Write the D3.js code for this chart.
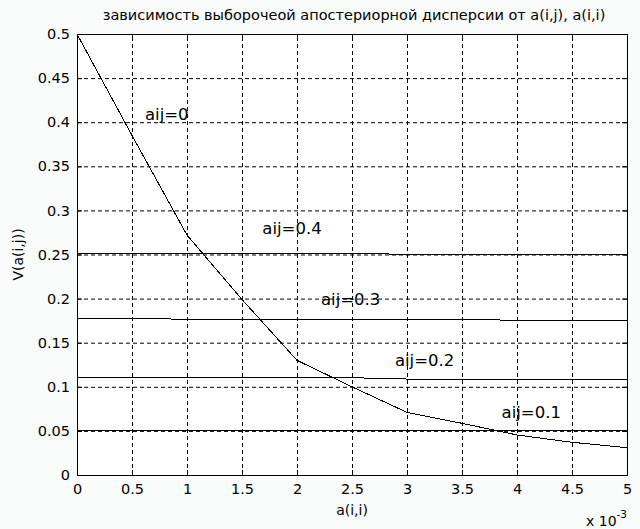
<!DOCTYPE html>
<html>
<head>
<meta charset="utf-8">
<script src="https://cdn.jsdelivr.net/npm/d3@7/dist/d3.min.js"></script>
<style>
  body { margin: 0; background: #fafbfb; }
  svg { display: block; font-family: "DejaVu Sans", sans-serif; }
</style>
</head>
<body>
<svg id="chart" width="640" height="529"></svg>
<script>
// x values are in units of 1e-3
var xValues = [0, 0.5, 1, 1.5, 2, 2.5, 3, 3.5, 4, 4.5, 5];
var curveAij0 = [0.5, 0.385, 0.272, 0.199, 0.13, 0.1, 0.071, 0.0586, 0.0454, 0.0371, 0.031];
var lineAij04 = [0.2513, 0.2513, 0.2513, 0.2513, 0.2513, 0.2513, 0.2502, 0.2502, 0.2502, 0.2502, 0.2502];
var lineAij03 = [0.1777, 0.1777, 0.1765, 0.1765, 0.1765, 0.1765, 0.1765, 0.1765, 0.1754, 0.1754, 0.1754];
var lineAij02 = [0.1103, 0.1103, 0.1103, 0.1103, 0.1103, 0.1103, 0.1088, 0.1088, 0.1088, 0.1088, 0.1088];
var lineAij01 = [0.0508, 0.0508, 0.0508, 0.0508, 0.0502, 0.0502, 0.0502, 0.0502, 0.0502, 0.0502, 0.0502];
var seriesList = [curveAij0, lineAij04, lineAij03, lineAij02, lineAij01];

var labelText = ["aij=0", "aij=0.4", "aij=0.3", "aij=0.2", "aij=0.1"];
var labelX = [0.618, 1.685, 2.218, 2.89, 3.86];
var labelY = [0.4096, 0.2797, 0.2, 0.13, 0.0718];

var xTicks = [0, 0.5, 1, 1.5, 2, 2.5, 3, 3.5, 4, 4.5, 5];
var yTicks = [0, 0.05, 0.1, 0.15, 0.2, 0.25, 0.3, 0.35, 0.4, 0.45, 0.5];

var MARGIN = {top: 34, right: 13, bottom: 54, left: 77};
var width = 640 - MARGIN.left - MARGIN.right;
var height = 529 - MARGIN.top - MARGIN.bottom;

var svg = d3.select("#chart");
var g = svg.append("g")
    .attr("transform", "translate(" + MARGIN.left + "," + MARGIN.top + ")");

var x = d3.scaleLinear().domain([0, 5]).range([0, width]);
var y = d3.scaleLinear().domain([0, 0.5]).range([height, 0]);

g.append("rect")
    .attr("width", width)
    .attr("height", height)
    .attr("fill", "#fff");

// dotted grid
g.append("g")
    .attr("class", "x-grid")
    .attr("transform", "translate(0," + height + ")")
    .call(d3.axisBottom(x).tickValues(xTicks).tickSize(-height).tickFormat(""))
    .call(function(s) { s.select(".domain").remove(); })
    .selectAll("line")
    .attr("stroke", "#000")
    .attr("stroke-dasharray", "4,3");

g.append("g")
    .attr("class", "y-grid")
    .call(d3.axisLeft(y).tickValues(yTicks).tickSize(-width).tickFormat(""))
    .call(function(s) { s.select(".domain").remove(); })
    .selectAll("line")
    .attr("stroke", "#000")
    .attr("stroke-dasharray", "4,3");

// data lines
var line = d3.line()
    .x(function(d, i) { return x(xValues[i]); })
    .y(function(d) { return y(d); });

g.selectAll("path.series")
    .data(seriesList)
    .enter()
    .append("path")
    .attr("class", "series")
    .attr("d", line)
    .attr("fill", "none")
    .attr("stroke", "#000")
    .attr("stroke-width", 1)
    .attr("shape-rendering", "crispEdges");

// axes with inward ticks, box on all sides
g.append("g")
    .attr("class", "x-axis")
    .attr("transform", "translate(0," + height + ")")
    .call(d3.axisBottom(x).tickValues(xTicks).tickSize(-5).tickPadding(9)
        .tickFormat(d3.format("")));

g.append("g")
    .attr("class", "y-axis")
    .call(d3.axisLeft(y).tickValues(yTicks).tickSize(-5).tickPadding(7)
        .tickFormat(d3.format("")));

g.append("g")
    .call(d3.axisTop(x).tickValues(xTicks).tickSize(-5).tickFormat(""));

g.append("g")
    .attr("transform", "translate(" + width + ",0)")
    .call(d3.axisRight(y).tickValues(yTicks).tickSize(-5).tickFormat(""));

g.selectAll(".domain, .tick line")
    .attr("stroke", "#000");
g.selectAll(".x-axis text, .y-axis text")
    .attr("fill", "#000")
    .style("font-family", "'DejaVu Sans', sans-serif")
    .style("font-size", "14.5px");

// annotations
g.selectAll("text.label")
    .data(labelText)
    .enter()
    .append("text")
    .attr("class", "label")
    .attr("x", function(d, i) { return x(labelX[i]); })
    .attr("y", function(d, i) { return y(labelY[i]); })
    .attr("dy", "0.36em")
    .style("font-size", "16.5px")
    .attr("fill", "#000")
    .text(function(d) { return d; });

// title and axis labels
svg.append("text")
    .attr("x", MARGIN.left + width / 2 + 2)
    .attr("y", 20)
    .attr("text-anchor", "middle")
    .style("font-size", "14.5px")
    .text("зависимость выборочеой апостериорной дисперсии от a(i,j), a(i,i)");

svg.append("text")
    .attr("x", MARGIN.left + width / 2)
    .attr("y", 515)
    .attr("text-anchor", "middle")
    .style("font-size", "14px")
    .text("a(i,i)");

svg.append("text")
    .attr("transform", "rotate(-90)")
    .attr("x", -(MARGIN.top + height / 2))
    .attr("y", 23)
    .attr("text-anchor", "middle")
    .style("font-size", "14px")
    .text("V(a(i,j))");

var expo = svg.append("text")
    .attr("x", 586)
    .attr("y", 526)
    .style("font-size", "14px");
expo.append("tspan").text("x 10");
expo.append("tspan")
    .attr("dy", -8)
    .style("font-size", "10.5px")
    .text("-3");
</script>
</body>
</html>
